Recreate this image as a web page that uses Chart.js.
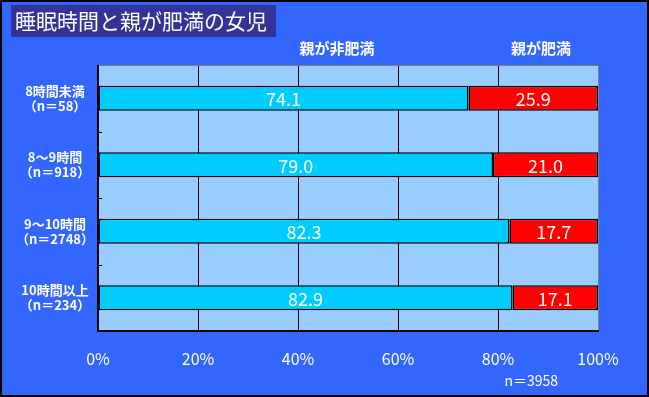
<!DOCTYPE html>
<html>
<head>
<meta charset="utf-8">
<script src="https://cdn.jsdelivr.net/npm/chart.js@4"></script>
<style>
  html, body { margin: 0; padding: 0; background: #3366ff; }
  #wrap { width: 649px; height: 397px; position: relative; }
</style>
</head>
<body>
<div id="wrap"><canvas id="sleepChart" width="649" height="397"></canvas></div>
<script>
const categories = [
    ['8時間未満', '（n＝58）'],
    ['8～9時間', '（n＝918）'],
    ['9～10時間', '（n＝2748）'],
    ['10時間以上', '（n＝234）']
];
const seriesNames = ['親が非肥満', '親が肥満'];
const notObese = [74.1, 79.0, 82.3, 82.9];
const obese = [25.9, 21.0, 17.7, 17.1];
const xTicks = [0, 20, 40, 60, 80, 100];

const FONT = '"Noto Sans CJK JP", "Noto Sans", sans-serif';

// 背景・枠・タイトル・ラベル
const decor = {
    id: 'decor',
    beforeDraw(chart) {
        const c = chart.ctx, a = chart.chartArea;
        c.save();
        c.fillStyle = '#3366ff';
        c.fillRect(0, 0, chart.width, chart.height);
        c.fillStyle = '#99ccff';
        c.fillRect(a.left, a.top, a.right - a.left, a.bottom - a.top);
        c.restore();
    },
    afterDatasetsDraw(chart) {
        const c = chart.ctx, a = chart.chartArea;
        c.save();
        // plot border
        c.lineWidth = 1;
        c.strokeStyle = '#808080';
        c.beginPath();
        c.moveTo(a.left, a.top + 0.5); c.lineTo(a.right + 0.5, a.top + 0.5); c.lineTo(a.right + 0.5, a.bottom);
        c.stroke();
        c.lineWidth = 2;
        c.strokeStyle = '#000';
        c.beginPath();
        c.moveTo(a.left, a.top); c.lineTo(a.left, a.bottom); c.lineTo(a.right + 1, a.bottom);
        c.stroke();
        // inward ticks between categories
        const ys = chart.scales.y;
        c.lineWidth = 1;
        for (let i = 0; i < categories.length - 1; i++) {
            const y = Math.round((ys.getPixelForValue(i) + ys.getPixelForValue(i + 1)) / 2) + 0.5;
            c.beginPath(); c.moveTo(a.left, y); c.lineTo(a.left + 4, y); c.stroke();
        }
        // values in bars
        c.fillStyle = '#fff';
        c.font = '18px ' + FONT;
        c.textAlign = 'center';
        c.textBaseline = 'middle';
        chart.data.datasets.forEach((ds, di) => {
            chart.getDatasetMeta(di).data.forEach((bar, i) => {
                const p = bar.getProps(['x', 'y', 'base'], true);
                c.fillText(ds.data[i].toFixed(1), (p.x + p.base) / 2, p.y + 1);
            });
        });
        // series names
        c.font = 'bold 15px ' + FONT;
        c.fillText(seriesNames[0], 337, 48);
        c.fillText(seriesNames[1], 541, 48);
        // n
        c.font = '14px ' + FONT;
        c.textAlign = 'right';
        c.fillText('n＝3958', 558, 381);
        // title
        c.fillStyle = '#333399';
        c.fillRect(11, 5, 265, 32);
        c.fillStyle = '#fff';
        c.font = '21px ' + FONT;
        c.textAlign = 'left';
        c.fillText('睡眠時間と親が肥満の女児', 15, 21);
        // outer frame
        c.strokeStyle = '#000';
        c.lineWidth = 2;
        c.strokeRect(1, 1, chart.width - 2, chart.height - 2);
        c.restore();
    }
};

const ctx = document.getElementById('sleepChart').getContext('2d');
new Chart(ctx, {
    type: 'bar',
    data: {
        labels: categories,
        datasets: [{
            label: seriesNames[0],
            data: notObese,
            backgroundColor: '#00ccff',
            borderColor: '#000',
            borderWidth: 1.5,
            borderSkipped: false,
            barPercentage: 0.376,
            categoryPercentage: 1
        }, {
            label: seriesNames[1],
            data: obese,
            backgroundColor: '#ff0000',
            borderColor: '#000',
            borderWidth: 1.5,
            borderSkipped: false,
            barPercentage: 0.376,
            categoryPercentage: 1
        }]
    },
    options: {
        indexAxis: 'y',
        responsive: false,
        animation: false,
        layout: { padding: { top: 65, right: 51, left: 0, bottom: 0 } },
        plugins: {
            legend: { display: false },
            tooltip: { enabled: false }
        },
        scales: {
            x: {
                stacked: true,
                min: 0,
                max: 100,
                afterBuildTicks: (s) => { s.ticks = xTicks.map(v => ({ value: v })); },
                afterFit: (s) => { s.height = 66; },
                border: { display: false },
                grid: { color: '#000', lineWidth: 1, drawTicks: false },
                ticks: {
                    color: '#fff',
                    padding: 18,
                    font: { family: FONT, size: 16 },
                    callback: v => v + '%'
                }
            },
            y: {
                stacked: true,
                afterFit: (s) => { s.width = 98; },
                border: { display: false },
                grid: { display: false },
                ticks: {
                    color: '#fff',
                    crossAlign: 'center',
                    padding: -4,
                    font: { family: FONT, size: 13, weight: 'bold', lineHeight: 1.15 }
                }
            }
        }
    },
    plugins: [decor]
});
</script>
</body>
</html>
